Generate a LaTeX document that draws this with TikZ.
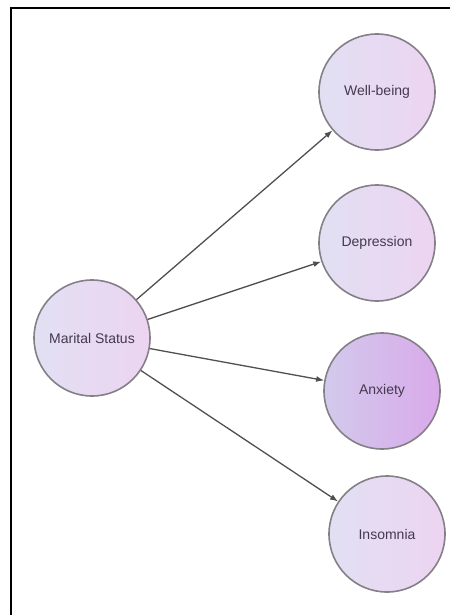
\documentclass[tikz,border=0pt]{standalone}
\usepackage{fontspec}
\setmainfont{Liberation Sans}
\usetikzlibrary{arrows.meta}
\definecolor{nodeL}{HTML}{E1E0F3}
\definecolor{nodeR}{HTML}{EDD4F1}
\definecolor{hotL}{HTML}{D2CAEC}
\definecolor{hotR}{HTML}{D9A9EA}
\definecolor{rim}{HTML}{858087}
\definecolor{ink}{HTML}{45384F}
\definecolor{wire}{HTML}{505050}
\tikzset{
  var/.style={circle, draw=rim, line width=1.6pt, minimum size=116pt, inner sep=0pt,
    left color=nodeL, right color=nodeR, text=ink, font=\fontsize{14}{16}\selectfont},
  hot/.style={var, left color=hotL, right color=hotR},
  link/.style={draw=wire, line width=1.3pt, -{Latex[length=8pt,width=6pt]}}
}
\begin{document}
\begin{tikzpicture}[x=1pt,y=-1pt]
  \useasboundingbox (0,0) rectangle (450,615);
  % frame edges
  \draw[line width=2.2pt, black] (11,615) -- (11,8) -- (450,8);
  % variables
  \node[var] (ms) at (92,338) {Marital Status};
  \node[var] (wb) at (377,92) {Well-being};
  \node[var] (dp) at (377,243) {Depression};
  \node[hot] (ax) at (382,391) {Anxiety};
  \node[var] (in) at (387,534) {Insomnia};
  % effects
  \draw[link] (ms) -- (wb);
  \draw[link] (ms) -- (dp);
  \draw[link] (ms) -- (ax);
  \draw[link] (ms) -- (in);
\end{tikzpicture}
\end{document}
